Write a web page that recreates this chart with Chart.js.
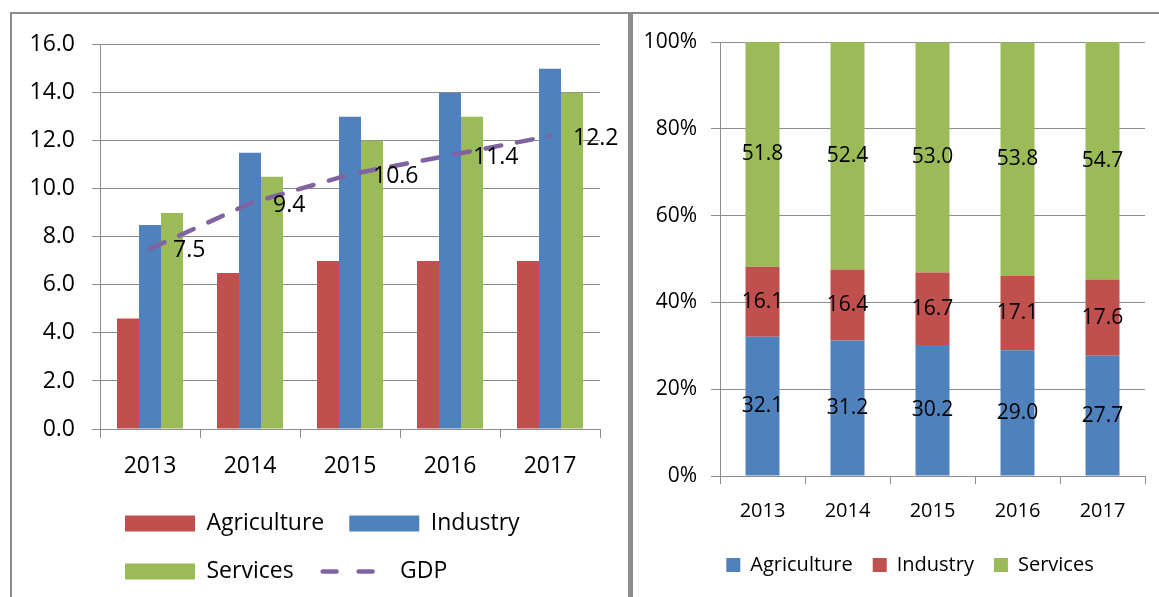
<!DOCTYPE html>
<html>
<head>
<meta charset="utf-8">
<script src="https://cdn.jsdelivr.net/npm/chart.js@4.4.1/dist/chart.umd.min.js"></script>
<style>
  html, body { margin: 0; padding: 0; background: #fff; overflow: hidden; }
  body { width: 1159px; height: 597px; position: relative; }
  #frame { position: absolute; left: 10px; top: 12px; width: 1149px; height: 600px;
           border-top: 2px solid #8c8c8c; border-left: 2px solid #8c8c8c; }
  #divider { position: absolute; left: 628px; top: 12px; width: 5px; height: 600px; background: #8c8c8c; }
  #growthChart { position: absolute; left: 12px; top: 14px; }
  #shareChart { position: absolute; left: 633px; top: 14px; }
</style>
</head>
<body>
<div id="frame"></div>
<div id="divider"></div>
<canvas id="growthChart" width="616" height="583"></canvas>
<canvas id="shareChart" width="526" height="583"></canvas>
<script>
// data
const years = ['2013', '2014', '2015', '2016', '2017'];

// left: growth rates
const agriGrowth = [4.6, 6.5, 7.0, 7.0, 7.0];
const industryGrowth = [8.5, 11.5, 13.0, 14.0, 15.0];
const servicesGrowth = [9.0, 10.5, 12.0, 13.0, 14.0];
const gdpGrowth = [7.5, 9.4, 10.6, 11.4, 12.2];

// right: share of GDP (%)
const agriShare = [32.1, 31.2, 30.2, 29.0, 27.7];
const industryShare = [16.1, 16.4, 16.7, 17.1, 17.6];
const servicesShare = [51.8, 52.4, 53.0, 53.8, 54.7];

const RED = '#C0504D';
const BLUE = '#4F81BD';
const GREEN = '#9BBB59';
const PURPLE = '#8064A2';
const GRID = '#8c8c8c';

Chart.defaults.font.family = '"Open Sans", sans-serif';
Chart.defaults.color = '#000';

// value labels to the right of the GDP line points
const gdpLabels = {
  id: 'gdpLabels',
  afterDatasetsDraw(chart) {
    const ctx = chart.ctx;
    const idx = chart.data.datasets.findIndex(d => d.type === 'line');
    const meta = chart.getDatasetMeta(idx);
    ctx.save();
    ctx.font = '23px "Open Sans"';
    ctx.fillStyle = '#000';
    ctx.textAlign = 'left';
    ctx.textBaseline = 'middle';
    meta.data.forEach((pt, i) => {
      ctx.fillText(gdpGrowth[i].toFixed(1), pt.x + 23, pt.y + 2);
    });
    ctx.restore();
  }
};

// centred labels inside the stacked segments
const shareLabels = {
  id: 'shareLabels',
  afterDatasetsDraw(chart) {
    const ctx = chart.ctx;
    ctx.save();
    ctx.font = '21px "Open Sans"';
    ctx.fillStyle = '#000';
    ctx.textAlign = 'center';
    ctx.textBaseline = 'middle';
    chart.data.datasets.forEach((ds, di) => {
      chart.getDatasetMeta(di).data.forEach((bar, i) => {
        ctx.fillText(ds.data[i].toFixed(1), bar.x, (bar.y + bar.base) / 2);
      });
    });
    ctx.restore();
  }
};

// nudge the right legend a bit to the right (centred under the plot in the original)
const legendNudge = {
  id: 'legendNudge',
  afterLayout(chart) {
    chart.legend.left += 16;
    chart.legend.right += 16;
  }
};

new Chart(document.getElementById('growthChart'), {
  type: 'bar',
  data: {
    labels: years,
    datasets: [
      { label: 'Agriculture', data: agriGrowth, backgroundColor: RED },
      { label: 'Industry', data: industryGrowth, backgroundColor: BLUE },
      { label: 'Services', data: servicesGrowth, backgroundColor: GREEN },
      {
        type: 'line',
        label: 'GDP',
        data: gdpGrowth,
        borderColor: PURPLE,
        backgroundColor: PURPLE,
        borderWidth: 4.5,
        borderDash: [16, 16],
        borderCapStyle: 'round',
        pointRadius: 0,
        fill: false,
        tension: 0,
        order: -1 // draw on top of the bars
      }
    ]
  },
  options: {
    responsive: false,
    animation: false,
    datasets: { bar: { categoryPercentage: 0.66, barPercentage: 1 } },
    layout: { padding: { left: 0, right: 28, top: 28, bottom: 4 } },
    plugins: {
      tooltip: { enabled: false },
      legend: {
        position: 'bottom',
        align: 'start',
        fullSize: false,
        labels: {
          usePointStyle: true,
          pointStyleWidth: 70,
          boxHeight: 16,
          padding: 25,
          color: '#000',
          font: { size: 23 },
          generateLabels(chart) {
            const items = Chart.defaults.plugins.legend.labels.generateLabels(chart);
            items.forEach(it => {
              const ds = chart.data.datasets[it.datasetIndex];
              if (ds.type === 'line') {
                it.pointStyle = 'line';
                it.lineDash = [14, 22];
                it.lineDashOffset = -4;
                it.lineWidth = ds.borderWidth;
                it.strokeStyle = ds.borderColor;
                it.lineCap = 'round';
              } else {
                it.pointStyle = 'rect';
                it.lineWidth = 0;
              }
            });
            return items.sort((a, b) => a.datasetIndex - b.datasetIndex);
          }
        }
      }
    },
    scales: {
      x: {
        grid: { offset: true, drawOnChartArea: false, tickLength: 9, color: GRID },
        border: { color: GRID },
        ticks: { padding: 15, color: '#000', font: { size: 23 } },
        afterFit(scale) { scale.height = 58; }
      },
      y: {
        min: 0,
        max: 16,
        ticks: {
          stepSize: 2,
          padding: 17,
          color: '#000',
          font: { size: 23 },
          callback: v => v.toFixed(1)
        },
        grid: { color: GRID, tickLength: 8 },
        border: { color: GRID },
        afterFit(scale) { scale.width = 88; }
      }
    }
  },
  plugins: [gdpLabels]
});

new Chart(document.getElementById('shareChart'), {
  type: 'bar',
  data: {
    labels: years,
    datasets: [
      { label: 'Agriculture', data: agriShare, backgroundColor: BLUE },
      { label: 'Industry', data: industryShare, backgroundColor: RED },
      { label: 'Services', data: servicesShare, backgroundColor: GREEN }
    ]
  },
  options: {
    responsive: false,
    animation: false,
    datasets: { bar: { barPercentage: 0.4, categoryPercentage: 1 } },
    layout: { padding: { left: 10, right: 14, top: 28, bottom: 12 } },
    plugins: {
      tooltip: { enabled: false },
      legend: {
        position: 'bottom',
        labels: { boxWidth: 14, boxHeight: 14, padding: 20, color: '#000', font: { size: 20 } }
      }
    },
    scales: {
      x: {
        stacked: true,
        grid: { offset: true, drawOnChartArea: false, tickLength: 8, color: GRID },
        border: { color: GRID },
        ticks: { padding: 15, color: '#000', font: { size: 20 } },
        afterFit(scale) { scale.height = 59; }
      },
      y: {
        stacked: true,
        min: 0,
        max: 100,
        ticks: {
          stepSize: 20,
          padding: 14,
          color: '#000',
          font: { size: 21 },
          callback: v => v + '%'
        },
        grid: { color: GRID, tickLength: 9 },
        border: { color: GRID },
        afterFit(scale) { scale.width = 77; }
      }
    }
  },
  plugins: [shareLabels, legendNudge]
});
</script>
</body>
</html>
